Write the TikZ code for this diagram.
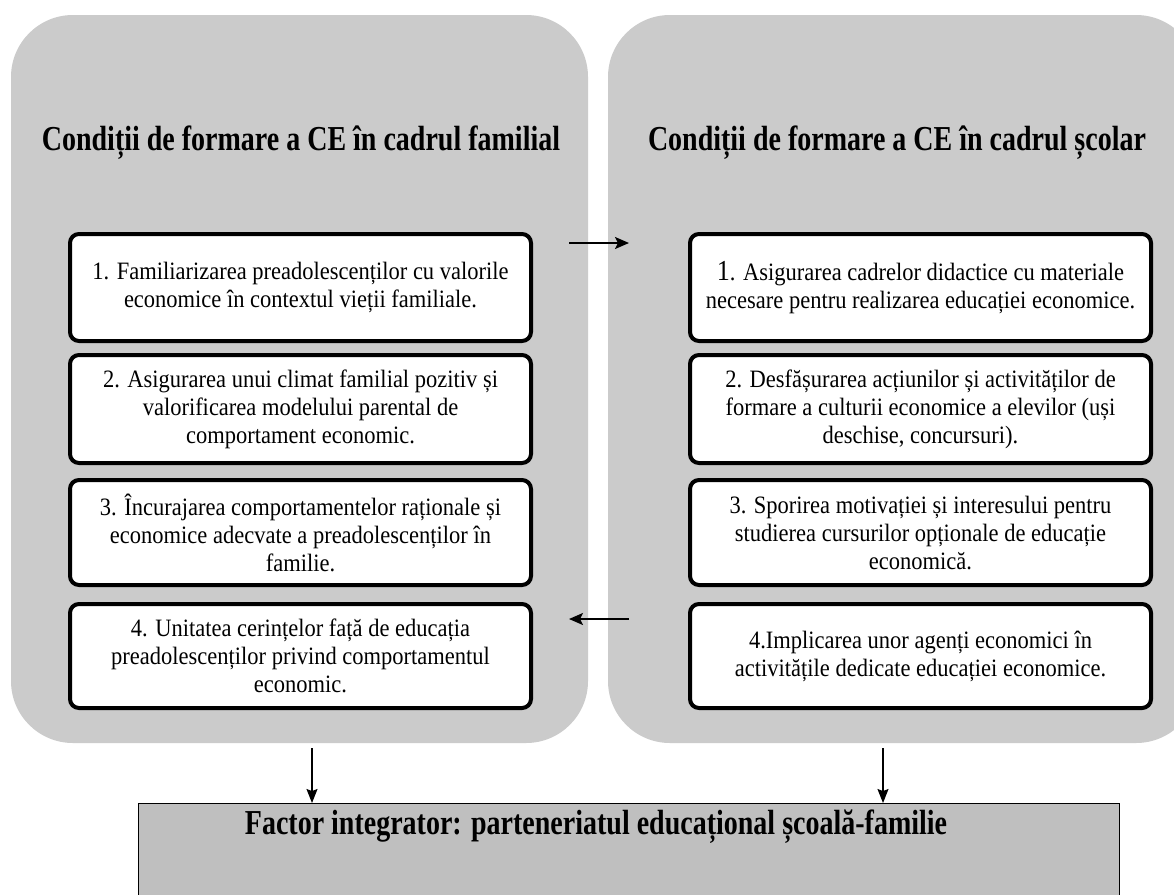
\documentclass[tikz,border=0pt]{standalone}
\usepackage{fontspec}
\setmainfont{Liberation Serif}
\newfontfamily\bodyf[FakeStretch=0.9]{Liberation Serif}
\newfontfamily\titlef[FakeStretch=0.8]{Liberation Serif}
\usetikzlibrary{arrows.meta}
\definecolor{panelgray}{HTML}{CBCBCB}
\definecolor{basegray}{HTML}{BFBFBF}
\begin{document}
\begin{tikzpicture}[x=1pt,y=-1pt,
  panel/.style={rectangle, fill=panelgray, rounded corners=62pt, inner sep=0pt},
  ttl/.style={font=\titlef\bfseries\fontsize{35}{40}\selectfont, inner sep=0pt},
  itembox/.style={rectangle, draw=black, line width=4pt, fill=white, rounded corners=9pt,
     minimum width=461pt, align=center, inner sep=0pt,
     font=\bodyf\fontsize{25}{28}\selectfont},
  basebox/.style={rectangle, draw=black, line width=1.2pt, fill=basegray, inner sep=0pt},
  harr/.style={-{Stealth[length=14pt,width=12pt,inset=3pt]}, line width=2pt},
  varr/.style={-{Stealth[length=14pt,width=11pt,inset=2pt]}, line width=1.2pt}
]
\useasboundingbox (0,0) rectangle (1174,894);
\path[fill=white] (0,0) rectangle (1174,894);

% panels
\node[panel, minimum width=577pt, minimum height=728pt] (pl) at (299.5,379) {};
\node[panel, minimum width=590pt, minimum height=728pt] (pr) at (903,379) {};

% titles
\node[ttl] (tl) at (301,143) {Condiții de formare a CE în cadrul familial};
\node[ttl] (tr) at (897,143) {Condiții de formare a CE în cadrul școlar};

% left boxes
\node[itembox, minimum height=107pt] (l1) at (300.5,287.5) {1. Familiarizarea preadolescenților cu valorile\\economice în contextul vieții familiale.};
\node[itembox, minimum height=108pt] (l2) at (300.5,409) {2. Asigurarea unui climat familial pozitiv și\\valorificarea modelului parental de\\comportament economic.};
\node[itembox, minimum height=105pt] (l3) at (300.5,532.5) {3. Încurajarea comportamentelor raționale și\\economice adecvate a preadolescenților în\\familie.};
\node[itembox, minimum height=104pt] (l4) at (300.5,656) {4. Unitatea cerințelor față de educația\\preadolescenților privind comportamentul\\economic.};

% right boxes
\node[itembox, minimum height=107pt] (r1) at (920.5,287.5) {{\fontsize{29}{28}\selectfont 1}. Asigurarea cadrelor didactice cu materiale\\necesare pentru realizarea educației economice.};
\node[itembox, minimum height=108pt] (r2) at (920.5,409) {2. Desfășurarea acțiunilor și activităților de\\formare a culturii economice a elevilor (uși\\deschise, concursuri).};
\node[itembox, minimum height=105pt] (r3) at (920.5,532.5) {3. Sporirea motivației și interesului pentru\\studierea cursurilor opționale de educație\\economică.};
\node[itembox, minimum height=104pt] (r4) at (920.5,656) {4.Implicarea unor agenți economici în\\activitățile dedicate educației economice.};

% bottom box
\node[basebox, minimum width=981pt, minimum height=140pt, anchor=north west] (base) at (138,803) {};
\node[ttl] (bt) at (596,827) {Factor integrator: parteneriatul educațional școală-familie};

% arrows between panels
\coordinate (a1s) at (569,243);
\coordinate (a1e) at (629,243);
\coordinate (a2s) at (629,619);
\coordinate (a2e) at (569,619);
\draw[harr] (a1s) -- (a1e);
\draw[harr] (a2s) -- (a2e);

% down arrows
\coordinate (d1s) at (312,748);
\coordinate (d2s) at (883,748);
\draw[varr] (d1s) -- (d1s |- base.north);
\draw[varr] (d2s) -- (d2s |- base.north);
\end{tikzpicture}
\end{document}
